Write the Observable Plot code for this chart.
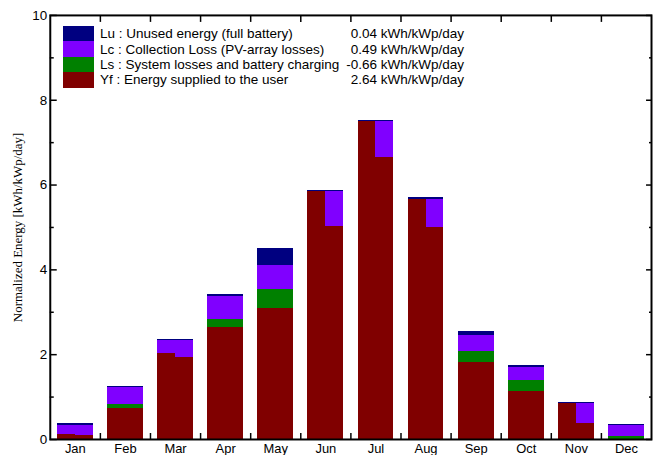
<!DOCTYPE html>
<html><head><meta charset="utf-8">
<script src="https://cdn.jsdelivr.net/npm/d3@7"></script>
<script src="https://cdn.jsdelivr.net/npm/@observablehq/plot@0.6"></script>
<style>
body{margin:0;overflow:hidden;background:#fff;}
#wrap{position:relative;width:653px;height:457px;overflow:hidden;}
#legend{position:absolute;left:63px;top:26px;font-family:"Liberation Sans",Arial,sans-serif;font-size:13.5px;color:#000;}
.row{display:flex;height:15.4px;align-items:center;}
.sw{width:31px;height:100%;flex:none;}
.lab{margin-left:6px;width:240px;flex:none;white-space:nowrap;}
.val{width:124px;flex:none;text-align:right;white-space:nowrap;}
</style></head>
<body>
<div id="wrap"><div id="chart"></div><div id="legend"></div></div>
<script>
const months = ["Jan","Feb","Mar","Apr","May","Jun","Jul","Aug","Sep","Oct","Nov","Dec"];
const Yf = [0.11, 0.72, 2.03, 2.64, 3.08, 5.85, 7.49, 5.67, 1.82, 1.12, 0.84, 0.00];
const Ls = [-0.02, 0.11, -0.105, 0.20, 0.46, -0.83, -0.83, -0.67, 0.25, 0.26, -0.455, 0.07];
const Lc = [0.25, 0.40, 0.405, 0.54, 0.57, 0.83, 0.83, 0.67, 0.39, 0.31, 0.465, 0.26];
const Lu = [0.03, 0.03, 0.03, 0.03, 0.39, 0.03, 0.03, 0.03, 0.08, 0.06, 0.03, 0.03];

const legendKeys = ["Lu", "Lc", "Ls", "Yf"];
const legendLabels = ["Lu : Unused energy (full battery)", "Lc : Collection Loss (PV-array losses)", "Ls : System losses and battery charging", "Yf : Energy supplied to the user"];
const legendValues = ["0.04 kWh/kWp/day", "0.49 kWh/kWp/day", "-0.66 kWh/kWp/day", "2.64 kWh/kWp/day"];
const colors = {Yf: "#800000", Ls: "#008000", Lc: "#8000ff", Lu: "#000080"};

const yMajor = [0, 2, 4, 6, 8, 10];
const yMinor = [1, 3, 5, 7, 9];
const yLabel = "Normalized Energy [kWh/kWp/day]";

// build half-bar segments
const hw = 0.357;
const segs = [];
months.forEach((m, i) => {
  const x = i + 1;
  const L = [x - hw, x], R = [x, x + hw];
  const add = (half, comp, a, b) => { if (b - a > 0.0001) segs.push({x1: half[0], x2: half[1], y1: a, y2: b, comp}); };
  const top = Yf[i] + Ls[i] + Lc[i] + Lu[i];
  if (Ls[i] >= 0) {
    for (const h of [L, R]) {
      let b = 0;
      add(h, "Yf", b, b + Yf[i]); b += Yf[i];
      add(h, "Ls", b, b + Ls[i]); b += Ls[i];
      add(h, "Lc", b, b + Lc[i]); b += Lc[i];
      add(h, "Lu", b, b + Lu[i]);
    }
  } else {
    add(L, "Yf", 0, Yf[i]);
    add(L, "Lc", Yf[i], top - Lu[i]);
    add(L, "Lu", top - Lu[i], top);
    const r = Yf[i] + Ls[i];
    add(R, "Yf", 0, r);
    add(R, "Lc", r, r + Lc[i]);
    add(R, "Lu", top - Lu[i], top);
  }
});

const monthIdx = months.map((m, i) => i + 1);
const bounds = months.slice(1).map((m, i) => i + 1.5);
const blank = () => "";

const chart = Plot.plot({
  width: 656, height: 457,
  marginLeft: 50, marginRight: 2, marginTop: 15, marginBottom: 16,
  style: {fontFamily: "Liberation Sans, Arial, sans-serif", fontSize: "13px", color: "#000", background: "#fff"},
  x: {type: "linear", domain: [0.5, 12.5]},
  y: {domain: [0, 10]},
  color: {domain: Object.keys(colors), range: Object.values(colors)},
  marks: [
    Plot.rectY(segs, {x1: "x1", x2: "x2", y1: "y1", y2: "y2", fill: d => colors[d.comp], shapeRendering: "crispEdges"}),
    Plot.axisY(yMajor, {anchor: "left", tickSize: -7, tickPadding: 10, fontSize: 13.5, strokeWidth: 1.5, label: null}),
    Plot.axisY(yMinor, {anchor: "left", tickSize: -4, tickFormat: blank, strokeWidth: 1.5, label: null}),
    Plot.axisY(yMajor, {anchor: "right", tickSize: -6, tickFormat: blank, strokeWidth: 1.5, label: null}),
    Plot.axisY(yMinor, {anchor: "right", tickSize: -3, tickFormat: blank, strokeWidth: 1.5, label: null}),
    Plot.axisX(bounds, {anchor: "top", tickSize: -6, tickFormat: blank, strokeWidth: 1.5, label: null}),
    Plot.axisX(bounds, {anchor: "bottom", tickSize: -6, tickFormat: blank, strokeWidth: 1.5, label: null}),
    Plot.axisX(monthIdx, {anchor: "bottom", tickSize: 0, tickPadding: 4, tickFormat: i => months[i - 1], fontSize: 13, label: null}),
    Plot.frame({stroke: "#000", strokeWidth: 2}),
    Plot.text([yLabel], {text: d => d, frameAnchor: "left", textAnchor: "middle", rotate: -90, dx: -33, fontFamily: "Liberation Serif, Times New Roman, serif", fontSize: 13})
  ]
});
document.getElementById("chart").appendChild(chart);

const lg = document.getElementById("legend");
legendKeys.forEach((k, i) => {
  const row = document.createElement("div");
  row.className = "row";
  row.innerHTML = `<div class="sw" style="background:${colors[k]}"></div><div class="lab">${legendLabels[i]}</div><div class="val">${legendValues[i]}</div>`;
  lg.appendChild(row);
});
</script>
</body></html>
